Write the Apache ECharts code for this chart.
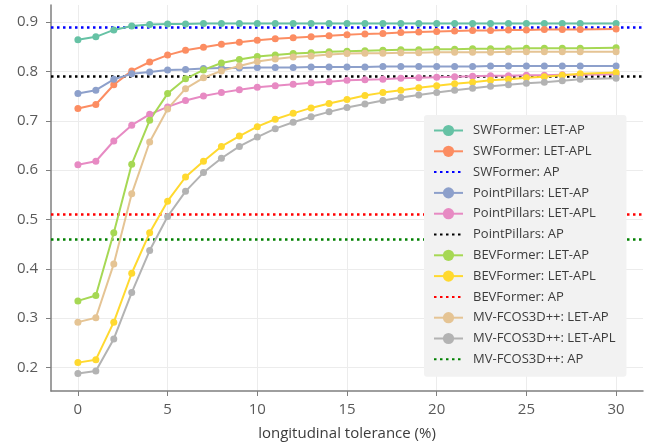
<!DOCTYPE html>
<html>
<head>
<meta charset="utf-8">
<script src="https://cdn.jsdelivr.net/npm/echarts@6/dist/echarts.min.js"></script>
<style>html,body{margin:0;padding:0;background:#fff}#c{width:651px;height:443px}</style>
</head>
<body>
<div id="c"></div>
<script>
const tolerance = [0,1,2,3,4,5,6,7,8,9,10,11,12,13,14,15,16,17,18,19,20,21,22,23,24,25,26,27,28,30];
const xTicks = [0,5,10,15,20,25,30];
const yTicks = [0.2,0.3,0.4,0.5,0.6,0.7,0.8,0.9];

const swLetAP  = [0.864,0.870,0.884,0.892,0.895,0.896,0.896,0.897,0.897,0.897,0.897,0.897,0.897,0.897,0.897,0.897,0.897,0.897,0.897,0.897,0.897,0.897,0.897,0.897,0.897,0.897,0.897,0.897,0.897,0.897];
const swLetAPL = [0.725,0.733,0.773,0.801,0.819,0.833,0.843,0.849,0.855,0.859,0.863,0.866,0.868,0.870,0.872,0.874,0.876,0.877,0.879,0.880,0.881,0.882,0.883,0.883,0.884,0.884,0.885,0.885,0.885,0.886];
const swAP = 0.890;
const ppLetAP  = [0.755,0.762,0.784,0.795,0.799,0.803,0.804,0.806,0.807,0.807,0.808,0.808,0.808,0.809,0.809,0.809,0.809,0.810,0.810,0.810,0.810,0.810,0.810,0.811,0.811,0.811,0.811,0.811,0.811,0.811];
const ppLetAPL = [0.611,0.618,0.659,0.691,0.713,0.728,0.741,0.750,0.757,0.763,0.768,0.771,0.774,0.777,0.779,0.782,0.783,0.784,0.786,0.787,0.788,0.789,0.790,0.791,0.791,0.792,0.792,0.793,0.793,0.794];
const ppAP = 0.787;
const bevLetAP  = [0.335,0.346,0.473,0.612,0.701,0.755,0.785,0.803,0.817,0.824,0.830,0.833,0.836,0.838,0.840,0.841,0.842,0.843,0.844,0.844,0.845,0.845,0.846,0.846,0.846,0.847,0.847,0.847,0.847,0.848];
const bevLetAPL = [0.210,0.216,0.292,0.391,0.473,0.537,0.586,0.618,0.648,0.669,0.688,0.703,0.715,0.726,0.735,0.743,0.751,0.757,0.762,0.767,0.771,0.775,0.778,0.782,0.784,0.787,0.789,0.792,0.795,0.798];
const bevAP = 0.507;
const fcosLetAP  = [0.292,0.301,0.410,0.552,0.657,0.724,0.765,0.787,0.801,0.811,0.820,0.825,0.829,0.831,0.834,0.836,0.837,0.837,0.838,0.838,0.839,0.839,0.839,0.839,0.840,0.840,0.840,0.840,0.840,0.840];
const fcosLetAPL = [0.188,0.193,0.258,0.352,0.437,0.506,0.557,0.595,0.624,0.648,0.667,0.684,0.697,0.708,0.718,0.727,0.734,0.741,0.747,0.752,0.757,0.762,0.766,0.770,0.773,0.776,0.778,0.781,0.784,0.786];
const fcosAP = 0.455;

const FONT = '"Open Sans", Roboto, sans-serif';

function lineSeries(name, vals, color) {
  return {
    name, type: 'line',
    data: tolerance.map((x, i) => [x, vals[i]]),
    symbol: 'circle', symbolSize: 7,
    lineStyle: { color, width: 2 },
    itemStyle: { color },
    emphasis: { disabled: true },
    animation: false
  };
}
function apSeries(name, value, color) {
  return {
    name, type: 'line', data: [],
    symbol: 'circle', symbolSize: 0,
    lineStyle: { color, width: 2.5, type: [2.5, 3.5] },
    itemStyle: { color: 'rgba(0,0,0,0)', borderColor: 'rgba(0,0,0,0)', borderWidth: 0 },
    markLine: {
      silent: true, symbol: 'none', animation: false, z: 2,
      label: { show: false },
      emphasis: { disabled: true },
      lineStyle: { color, width: 2.5, type: [2.5, 3.5] },
      data: [{ yAxis: value }]
    },
    animation: false
  };
}

const series = [
  lineSeries('SWFormer: LET-AP', swLetAP, '#66c2a5'),
  lineSeries('SWFormer: LET-APL', swLetAPL, '#fc8d62'),
  apSeries('SWFormer: AP', swAP, '#0000ff'),
  lineSeries('PointPillars: LET-AP', ppLetAP, '#8da0cb'),
  lineSeries('PointPillars: LET-APL', ppLetAPL, '#e78ac3'),
  apSeries('PointPillars: AP', ppAP, '#000000'),
  lineSeries('BEVFormer: LET-AP', bevLetAP, '#a6d854'),
  lineSeries('BEVFormer: LET-APL', bevLetAPL, '#ffd92f'),
  apSeries('BEVFormer: AP', bevAP, '#ff0000'),
  lineSeries('MV-FCOS3D++: LET-AP', fcosLetAP, '#e5c494'),
  lineSeries('MV-FCOS3D++: LET-APL', fcosLetAPL, '#b3b3b3'),
  apSeries('MV-FCOS3D++: AP', fcosAP, '#008000')
];

const chart = echarts.init(document.getElementById('c'), null, { renderer: 'canvas' });
chart.setOption({
  animation: false,
  backgroundColor: '#ffffff',
  grid: { left: 51, right: 8, top: 5, bottom: 52, containLabel: false, outerBoundsMode: 'none' },
  xAxis: {
    type: 'value', min: -1.5, max: 31.5,
    name: 'longitudinal tolerance (%)', nameLocation: 'middle', nameGap: 35.5,
    nameTextStyle: { color: '#3c3c3c', fontSize: 15, fontFamily: FONT },
    axisLine: { show: true, onZero: false, lineStyle: { color: '#7f7f7f', width: 1.5 } },
    axisTick: { show: true, length: 5, customValues: xTicks, lineStyle: { color: '#7f7f7f' } },
    axisLabel: { customValues: xTicks, color: '#5a5a5a', fontSize: 15, fontFamily: FONT, margin: 11 },
    splitLine: { show: true, lineStyle: { color: '#ececec', width: 1 } }
  },
  yAxis: {
    type: 'value', min: 0.1525, max: 0.9345,
    axisLine: { show: true, onZero: false, lineStyle: { color: '#7f7f7f', width: 1.5 } },
    axisTick: { show: true, length: 5, customValues: yTicks, lineStyle: { color: '#7f7f7f' } },
    axisLabel: { customValues: yTicks, color: '#5a5a5a', fontSize: 15, fontFamily: FONT, margin: 13,
      formatter: v => v.toFixed(1) },
    splitLine: { show: true, lineStyle: { color: '#ececec', width: 1 } }
  },
  legend: {
    z: 10,
    left: 424, top: 115, orient: 'vertical',
    backgroundColor: '#f2f2f2', borderRadius: 3,
    padding: [9, 11, 11, 9],
    itemWidth: 29, itemHeight: 14, itemGap: 7.8,
    textStyle: { color: '#3c3c3c', fontSize: 13, fontFamily: FONT, padding: [0, 0, 0, 5] },
    selectedMode: false,
    data: series.map(s => s.name)
  },
  series
});
</script>
</body>
</html>
